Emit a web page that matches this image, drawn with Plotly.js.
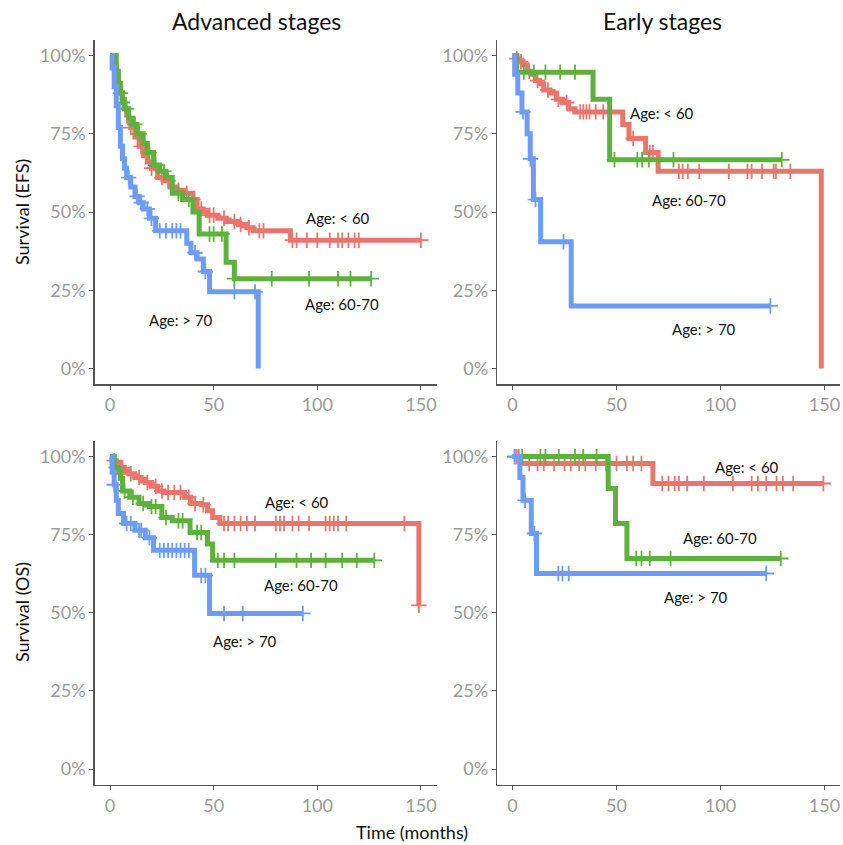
<!DOCTYPE html>
<html>
<head>
<meta charset="utf-8">
<script src="https://cdn.plot.ly/plotly-3.0.1.min.js"></script>
<style>html,body{margin:0;padding:0;background:#fff;}#chart{width:843px;height:845px;}</style>
</head>
<body>
<div id="chart"></div>
<script>
// ---------- DATA (time in months, survival in %) ----------
// Advanced stages, EFS
const advEFS_lt60_t = [0, 2, 3, 4, 5, 6, 7, 8, 9, 10, 12, 14, 16, 18, 20, 23, 26, 29, 32, 36, 40, 42, 45, 47, 52, 56, 62, 66, 69, 87, 150];
const advEFS_lt60_s = [100, 97, 94, 91, 88, 86, 83, 81, 79, 77, 74, 71, 68, 66, 64, 61, 60, 58, 57, 56, 54, 51, 50, 49, 48, 47, 46, 45, 44, 41, 41];
const advEFS_lt60_c = [10, 15, 20, 25, 28, 33, 37, 40, 44, 48, 50, 55, 60, 63, 67, 72, 74, 88, 90, 95, 100, 106, 110, 112, 115, 118, 120, 150];
const advEFS_6070_t = [0, 3, 4, 5, 6, 7, 9, 11, 13, 16, 18, 21, 24, 27, 30, 35, 40, 43, 56, 60, 126];
const advEFS_6070_s = [100, 95, 91, 88, 85, 83, 80, 78, 75, 72, 69, 65, 63, 61, 56, 54, 50, 43, 34, 28.7, 28.7];
const advEFS_6070_c = [5, 6, 8, 12, 14, 19, 22, 26, 33, 38, 48, 50, 54, 60, 78, 96, 110, 116, 126];
const advEFS_gt70_t = [0, 1, 2, 3, 4, 5, 6, 7, 8, 10, 12, 14, 16, 19, 22, 37, 39, 42, 45, 48, 71.5];
const advEFS_gt70_s = [100, 96, 90, 84, 77, 71, 67, 64, 61, 58, 55, 53, 51, 48, 44, 40, 37, 35, 31, 24.5, 0];
const advEFS_gt70_c = [9, 13, 15, 18, 20, 24, 27, 30, 32, 34, 41, 46, 60, 70];

// Early stages, EFS
const earEFS_lt60_t = [0, 2, 3, 5, 7, 9, 11, 13, 15, 18, 21, 24, 27, 30, 53, 56, 64, 70, 148.5];
const earEFS_lt60_s = [100, 99, 98, 97, 95, 94, 92, 91, 89, 88, 86, 85, 83, 82, 78, 73.5, 69, 63, 0];
const earEFS_lt60_c = [2, 4, 8, 12, 17, 22, 26, 32.5, 34, 35.5, 37, 40, 43.6, 58, 66, 67.5, 80, 81.8, 84.3, 89.8, 104, 113, 115, 120, 125.6, 126.7, 133.6];
const earEFS_6070_t = [0, 2, 38.7, 46.7, 129.5];
const earEFS_6070_s = [100, 94.7, 86, 66.7, 66.7];
const earEFS_6070_c = [5.4, 10.2, 15.8, 22.9, 30, 49, 60, 62.3, 65.5, 77.4, 129.5];
const earEFS_gt70_t = [0, 1, 2.5, 4.5, 7, 8.5, 10, 13.5, 28.2, 124];
const earEFS_gt70_s = [100, 94, 88, 82, 75, 67, 54, 40.5, 20, 20];
const earEFS_gt70_c = [5, 8.6, 11, 24.5, 124];

// Advanced stages, OS
const advOS_lt60_t = [0, 1, 3, 5, 7, 9, 12, 15, 17, 20, 23, 26, 36, 39, 44, 47, 49.5, 53, 149];
const advOS_lt60_s = [100, 98.7, 97.8, 96.5, 95.5, 94.5, 93.3, 92.5, 91.7, 90.5, 89, 88.5, 87, 85, 84.6, 82.7, 80.5, 78.6, 52.4];
const advOS_lt60_c = [2, 6, 10, 14, 18, 22, 25, 28, 31, 34, 38, 41, 45, 55, 57, 60, 63, 66, 70, 80, 82, 84, 88, 91, 96, 104, 106, 108, 110, 114, 142, 149];
const advOS_6070_t = [0, 2, 4, 5, 6, 9.5, 14, 19, 25, 30, 38.6, 47, 49.5, 127.5];
const advOS_6070_s = [100, 96.5, 95, 93, 89, 87, 85, 84, 80.5, 79.5, 75.7, 72, 66.8, 66.8];
const advOS_6070_c = [3, 7, 11, 16, 20, 22, 27, 33, 35, 42, 44, 52, 55, 60, 80, 90, 97, 104, 112, 119, 127.5];
const advOS_gt70_t = [0, 1, 2, 3, 4, 6.5, 12, 17, 21, 40.8, 48, 93];
const advOS_gt70_s = [100, 95, 91, 86, 81.8, 78.6, 76.4, 74, 70, 62, 49.8, 49.8];
const advOS_gt70_c = [2, 8, 10, 14, 15, 19, 24, 26, 28, 30, 32, 34, 36, 38, 44, 46, 55, 64, 93];

// Early stages, OS
const earOS_lt60_t = [0, 4, 67.5, 149.5];
const earOS_lt60_s = [100, 97.8, 91.4, 91.4];
const earOS_lt60_c = [1, 2, 3, 8, 12, 15, 20, 25, 28, 32, 35, 40, 45, 50, 55, 58, 62, 72, 75, 78, 80, 84, 92, 106, 115, 118, 122, 127, 130, 135, 149.5];
const earOS_6070_t = [0, 46, 49.5, 55, 129];
const earOS_6070_s = [100, 89.8, 78.6, 67.4, 67.4];
const earOS_6070_c = [4.6, 13.4, 15.8, 22.2, 30, 34, 40.4, 59.5, 62, 66, 76, 129];
const earOS_gt70_t = [0, 3.5, 5, 9, 11.5, 122];
const earOS_gt70_s = [100, 93.3, 86, 75.4, 62.6, 62.6];
const earOS_gt70_c = [1, 6, 10.5, 22, 24, 27, 122];

const groupNames = ["Age: < 60", "Age: 60-70", "Age: > 70"];
const yTickVals = [0, 25, 50, 75, 100];
const yTickText = ["0%", "25%", "50%", "75%", "100%"];
const xTickVals = [0, 50, 100, 150];
const panelTitles = ["Advanced stages", "Early stages"];
const rowTitles = ["Survival (EFS)", "Survival (OS)"];
const xTitle = "Time (months)";

// label positions [t, s] per panel, per group
const labelPos = {
  advEFS: [[110, 48], [112, 20.5], [34, 15.5]],
  earEFS: [[72, 81.5], [85, 54], [92, 12.5]],
  advOS:  [[90, 85.6], [92, 59], [65, 41]],
  earOS:  [[113, 96.8], [100, 74], [88, 55]]
};

// ---------- STYLE ----------
const colors = ["#E8766D", "#5DB13C", "#6E9CF5"];
const FONT = "Lato, 'Open Sans', 'DejaVu Sans', sans-serif";

function stepVal(ts, ss, t) {
  let v = ss[0];
  for (let i = 0; i < ts.length; i++) { if (ts[i] <= t) v = ss[i]; }
  return v;
}

const panels = [
  {key: "advEFS", xa: "x", ya: "y", series: [[advEFS_lt60_t, advEFS_lt60_s, advEFS_lt60_c], [advEFS_6070_t, advEFS_6070_s, advEFS_6070_c], [advEFS_gt70_t, advEFS_gt70_s, advEFS_gt70_c]]},
  {key: "earEFS", xa: "x2", ya: "y2", series: [[earEFS_lt60_t, earEFS_lt60_s, earEFS_lt60_c], [earEFS_6070_t, earEFS_6070_s, earEFS_6070_c], [earEFS_gt70_t, earEFS_gt70_s, earEFS_gt70_c]]},
  {key: "advOS", xa: "x3", ya: "y3", series: [[advOS_lt60_t, advOS_lt60_s, advOS_lt60_c], [advOS_6070_t, advOS_6070_s, advOS_6070_c], [advOS_gt70_t, advOS_gt70_s, advOS_gt70_c]]},
  {key: "earOS", xa: "x4", ya: "y4", series: [[earOS_lt60_t, earOS_lt60_s, earOS_lt60_c], [earOS_6070_t, earOS_6070_s, earOS_6070_c], [earOS_gt70_t, earOS_gt70_s, earOS_gt70_c]]}
];

const traces = [];
const annotations = [];
panels.forEach(p => {
  p.series.forEach((s, gi) => {
    traces.push({
      x: s[0], y: s[1], xaxis: p.xa, yaxis: p.ya, type: "scatter", mode: "lines",
      line: {shape: "hv", color: colors[gi], width: 5}, showlegend: false, hoverinfo: "skip"
    });
    traces.push({
      x: s[2], y: s[2].map(t => stepVal(s[0], s[1], t)), xaxis: p.xa, yaxis: p.ya,
      type: "scatter", mode: "markers",
      marker: {symbol: "cross-thin", size: 11, color: colors[gi], line: {color: colors[gi], width: 1.8}},
      showlegend: false, hoverinfo: "skip"
    });
    const lp = labelPos[p.key][gi];
    annotations.push({x: lp[0], y: lp[1], xref: p.xa, yref: p.ya, text: groupNames[gi], showarrow: false,
      xanchor: "center", yanchor: "middle", font: {family: FONT, size: 15, color: "#111"}});
  });
});

function paperText(px, py, text, size, angle) {
  return {x: px / 843, y: 1 - py / 845, xref: "paper", yref: "paper", text: text, showarrow: false,
    xanchor: "center", yanchor: "middle", textangle: angle || 0, font: {family: FONT, size: size, color: "#111"}};
}
annotations.push(paperText(256, 21, panelTitles[0], 23));
annotations.push(paperText(662, 21, panelTitles[1], 23));
annotations.push(paperText(412, 832, xTitle, 18));
annotations.push(paperText(22, 212, rowTitles[0], 18, -90));
annotations.push(paperText(22, 612, rowTitles[1], 18, -90));

function xAxis(dom, anchor) {
  return {domain: dom, anchor: anchor, range: [-7.5, 157.5], showgrid: false, zeroline: false,
    showline: true, linecolor: "#555", linewidth: 1.3, ticks: "outside", ticklen: 4, tickcolor: "#555",
    tickvals: xTickVals, tickfont: {family: FONT, size: 18, color: "#999"}, automargin: false, fixedrange: true};
}
function yAxis(dom, anchor) {
  return {domain: dom, anchor: anchor, range: [-5, 105], showgrid: false, zeroline: false,
    showline: true, linecolor: "#555", linewidth: 1.3, ticks: "outside", ticklen: 4, tickcolor: "#555",
    tickvals: yTickVals, ticktext: yTickText, tickfont: {family: FONT, size: 18, color: "#999"}, automargin: false, fixedrange: true};
}

const xL = [94.5 / 843, 436.5 / 843], xR = [497 / 843, 840 / 843];
const yT = [1 - 384.2 / 845, 1 - 39.9 / 845], yB = [1 - 784.7 / 845, 1 - 441 / 845];

const layout = {
  width: 843, height: 845, margin: {l: 0, r: 0, t: 0, b: 0},
  paper_bgcolor: "#fff", plot_bgcolor: "#fff", showlegend: false,
  font: {family: FONT},
  xaxis: xAxis(xL, "y"), yaxis: yAxis(yT, "x"),
  xaxis2: xAxis(xR, "y2"), yaxis2: yAxis(yT, "x2"),
  xaxis3: xAxis(xL, "y3"), yaxis3: yAxis(yB, "x3"),
  xaxis4: xAxis(xR, "y4"), yaxis4: yAxis(yB, "x4"),
  annotations: annotations
};

Plotly.newPlot("chart", traces, layout, {staticPlot: true, displayModeBar: false});
</script>
</body>
</html>
